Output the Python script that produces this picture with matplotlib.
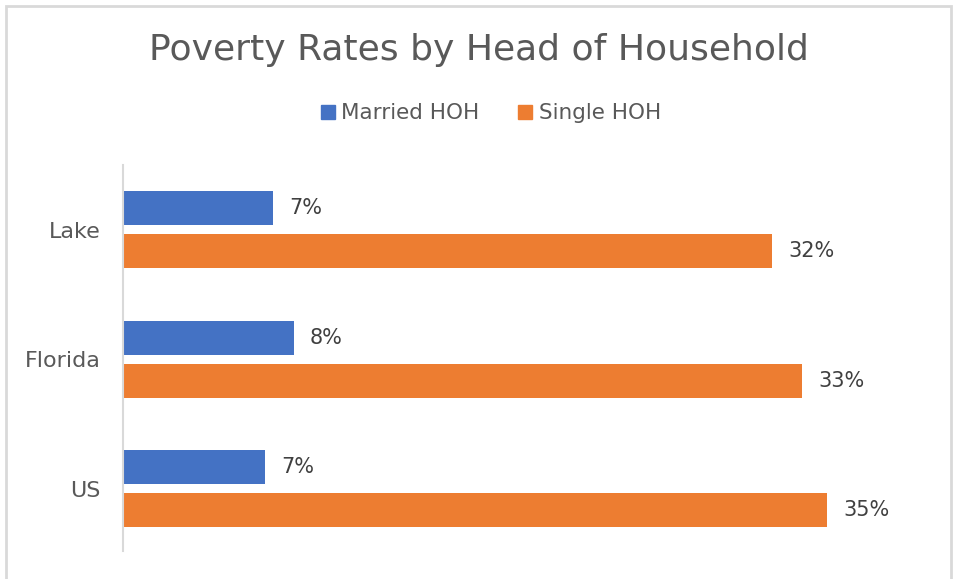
import matplotlib
matplotlib.use("Agg")
import matplotlib.pyplot as plt
from matplotlib.patches import Rectangle, Patch

# данные (подписи на картинке округлены, длины баров чуть точнее)
categories = ["Lake", "Florida", "US"]
married = [7.4, 8.4, 7.0]
single = [31.9, 33.4, 34.6]
series_names = ["Married HOH", "Single HOH"]

blue = "#4472C4"
orange = "#ED7D31"
gray_txt = "#595959"

plt.rcParams["font.family"] = ["DejaVu Sans"]

fig = plt.figure(figsize=(9.57, 5.79), dpi=100)
ax = fig.add_axes([0.1285, 0.049, 0.85, 0.666])

# позиции категорий сверху вниз
ypos = [2 - i for i in range(len(categories))]
off = 0.166
h = 0.263

ax.barh([y + off for y in ypos], married, height=h, color=blue)
ax.barh([y - off for y in ypos], single, height=h, color=orange)

# подписи значений
for y, m, s in zip(ypos, married, single):
    ax.text(m + 0.8, y + off, f"{m:.0f}%", va="center", ha="left", fontsize=15, color="#404040")
    ax.text(s + 0.8, y - off, f"{s:.0f}%", va="center", ha="left", fontsize=15, color="#404040")

ax.set_xlim(0, 40)
ax.set_ylim(-0.48, 2.5)
ax.set_yticks(ypos)
ax.set_yticklabels(categories, fontsize=16, color=gray_txt)
ax.tick_params(axis="y", length=0, pad=16)
ax.set_xticks([])
for side in ["top", "right", "bottom"]:
    ax.spines[side].set_visible(False)
ax.spines["left"].set_color("#d9d9d9")
ax.spines["left"].set_linewidth(1.5)

fig.text(0.5, 0.913, "Poverty Rates by Head of Household", ha="center", va="center",
         fontsize=26, color=gray_txt)

handles = [Patch(color=blue), Patch(color=orange)]
fig.legend(handles, series_names, loc="center", bbox_to_anchor=(0.513, 0.804), ncol=2,
           frameon=False, fontsize=15.5, labelcolor=gray_txt, handlelength=0.65,
           handleheight=0.65, handletextpad=0.3, columnspacing=1.8)

# серая рамка вокруг всей диаграммы
fig.patches.append(Rectangle((6 / 957, -0.1), 945 / 957, 1.1 - 6 / 579, transform=fig.transFigure,
                             fill=False, edgecolor="#d9d9d9", linewidth=2))

fig.savefig("out.png", dpi=100)
